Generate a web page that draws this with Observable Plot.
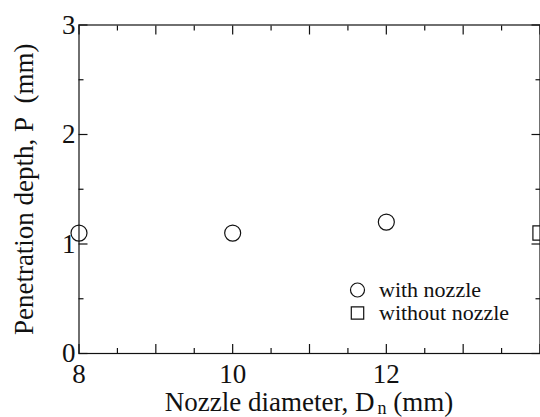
<!DOCTYPE html>
<html>
<head>
<meta charset="utf-8">
<script src="https://cdn.jsdelivr.net/npm/d3@7"></script>
<script src="https://cdn.jsdelivr.net/npm/@observablehq/plot@0.6"></script>
<style>
  html, body { margin: 0; padding: 0; background: #fff; }
  #chart svg { display: block; }
</style>
</head>
<body>
<div id="chart"></div>
<script>
// ---- data ----
const withNozzleD = [8, 10, 12];
const withNozzleP = [1.1, 1.1, 1.2];
const withoutNozzleD = [14];
const withoutNozzleP = [1.1];

const xMajorTicks = [8, 9, 10, 11, 12, 13, 14];
const xMinorTicks = [8.5, 9.5, 10.5, 11.5, 12.5, 13.5];
const xTickLabels = [8, 10, 12];
const yMajorTicks = [0, 1, 2, 3];
const yMinorTicks = [0.5, 1.5, 2.5];
const yTickLabels = [0, 1, 2, 3];

const legendLabels = ["with nozzle", "without nozzle"];
const legendSymbols = ["circle", "square"];

const xTitleMain = "Nozzle diameter, D";
const xTitleSub = "n";
const xTitleEnd = " (mm)";
const yTitle = "Penetration depth, P\u00a0 (mm)";

const withData = withNozzleD.map((d, i) => ({d, p: withNozzleP[i]}));
const withoutData = withoutNozzleD.map((d, i) => ({d, p: withoutNozzleP[i]}));

const ink = "#111";
const font = "'Liberation Serif', 'Times New Roman', serif";

const tickAxes = [];
for (const anchor of ["bottom", "top"]) {
  tickAxes.push(Plot.axisX(xMajorTicks, {anchor, tickSize: -9, fill: "none", label: null, stroke: ink, strokeWidth: 1.2}));
  tickAxes.push(Plot.axisX(xMinorTicks, {anchor, tickSize: -5, fill: "none", label: null, stroke: ink, strokeWidth: 1.2}));
}
for (const anchor of ["left", "right"]) {
  tickAxes.push(Plot.axisY(yMajorTicks, {anchor, tickSize: -9, fill: "none", label: null, stroke: ink, strokeWidth: 1.2}));
  tickAxes.push(Plot.axisY(yMinorTicks, {anchor, tickSize: -5, fill: "none", label: null, stroke: ink, strokeWidth: 1.2}));
}

const legendMarks = [];
legendLabels.forEach((label, i) => {
  legendMarks.push(Plot.dot([label], {frameAnchor: "top-left", dx: 278.5, dy: 265 + i * 23, r: 7, symbol: legendSymbols[i], stroke: ink, strokeWidth: 1.2, fill: "none"}));
  legendMarks.push(Plot.text([label], {frameAnchor: "top-left", dx: 300, dy: 265 + i * 23, text: d => d, textAnchor: "start", lineAnchor: "middle", fontSize: 22, fill: ink}));
});

const chart = Plot.plot({
  width: 540,
  height: 417,
  marginLeft: 78.5,
  marginRight: 0.5,
  marginTop: 24.5,
  marginBottom: 64,
  style: {fontFamily: font, background: "#fff", color: ink},
  x: {domain: [8, 14]},
  y: {domain: [0, 3]},
  marks: [
    ...tickAxes,
    Plot.axisX(xTickLabels, {anchor: "bottom", tickSize: 0, tickPadding: 10, fontSize: 27, label: null, fill: ink, tickFormat: d => String(d)}),
    Plot.axisY(yTickLabels, {anchor: "left", tickSize: 0, tickPadding: 3.5, fontSize: 27, label: null, fill: ink, tickFormat: d => String(d)}),
    Plot.frame({stroke: ink, strokeWidth: 1.2}),
    Plot.dot(withData, {x: "d", y: "p", r: 8, symbol: "circle", stroke: ink, strokeWidth: 1.2, fill: "none"}),
    Plot.dot(withoutData, {x: "d", y: "p", r: 8, symbol: "square", stroke: ink, strokeWidth: 1.2, fill: "none"}),
    ...legendMarks,
    Plot.text([yTitle], {frameAnchor: "left", dx: -46, rotate: -90, textAnchor: "middle", lineAnchor: "bottom", text: d => d, fontSize: 27, fill: ink})
  ]
});

// x-axis title with subscript
const xr = chart.scale("x").range;
const svg = d3.select(chart);
const t = svg.append("text")
  .attr("x", (xr[0] + xr[1]) / 2)
  .attr("y", 411)
  .attr("text-anchor", "middle")
  .attr("font-family", font)
  .attr("font-size", 27)
  .attr("fill", ink);
t.append("tspan").text(xTitleMain);
t.append("tspan").attr("dx", 3).attr("dy", 3).attr("font-size", 18).text(xTitleSub);
t.append("tspan").attr("dy", -3).text(xTitleEnd);

document.getElementById("chart").appendChild(chart);
</script>
</body>
</html>
